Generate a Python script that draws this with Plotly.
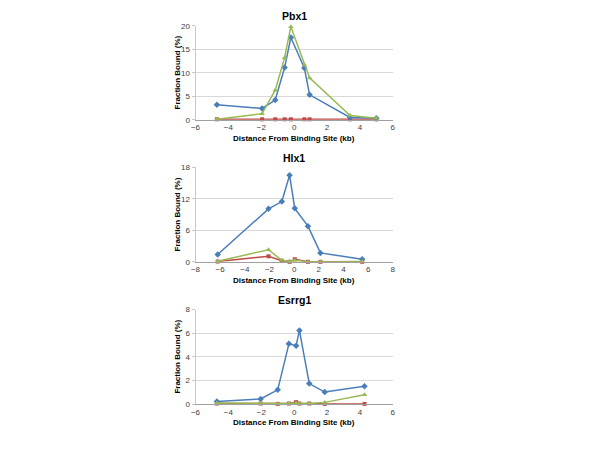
import plotly.graph_objects as go

# ---- data ----
pbx_x = [-4.7, -1.95, -1.15, -0.58, -0.2, 0.62, 0.94, 3.4, 5.0]
pbx_blue = [3.2, 2.4, 4.2, 11.1, 17.5, 11.0, 5.3, 0.5, 0.3]
pbx_red = [0.1, 0.1, 0.1, 0.1, 0.1, 0.1, 0.1, 0.1, 0.1]
pbx_green = [0.1, 1.3, 6.3, 13.2, 19.8, 11.7, 8.9, 0.9, 0.3]

hlx_x = [-6.2, -2.08, -1.0, -0.37, 0.05, 1.12, 2.13, 5.52]
hlx_blue = [1.4, 10.1, 11.5, 16.5, 10.2, 6.8, 1.7, 0.5]
hlx_red = [0.05, 1.05, 0.2, 0.0, 0.5, 0.0, 0.0, 0.0]
hlx_green = [0.1, 2.3, 0.3, 0.1, 0.3, 0.0, 0.0, 0.05]

esr_x = [-4.7, -2.04, -1.0, -0.32, 0.12, 0.32, 0.92, 1.86, 4.28]
esr_blue = [0.22, 0.44, 1.21, 5.1, 4.94, 6.23, 1.74, 1.02, 1.52]
esr_red = [0.05, 0.05, 0.02, 0.05, 0.17, 0.05, 0.05, 0.02, 0.02]
esr_green = [0.1, 0.05, 0.02, 0.05, 0.1, 0.05, 0.05, 0.15, 0.8]

titles = ["Pbx1", "Hlx1", "Esrrg1"]
x_ranges = [[-6, 6], [-8, 8], [-6, 6]]
x_dticks = [2, 2, 2]
y_ranges = [[0, 20], [0, 18], [0, 8]]
y_dticks = [5, 6, 2]

BLUE = "#4A7EBB"
RED = "#BE4B48"
GREEN = "#98B954"

# page body has an 8px margin; work in page pixels and subtract it
OFF = 8
W, H = 600 - OFF, 450 - OFF
x0, x1 = 193 - OFF, 393 - OFF
panels_px = [(22.0 - OFF, 118.0 - OFF), (166.7 - OFF, 263.0 - OFF), (311.7 - OFF, 408.3 - OFF)]

fig = go.Figure()

datasets = [
    (pbx_x, pbx_blue, pbx_red, pbx_green),
    (hlx_x, hlx_blue, hlx_red, hlx_green),
    (esr_x, esr_blue, esr_red, esr_green),
]

layout = dict(
    width=W, height=H,
    margin=dict(l=0, r=0, t=0, b=0),
    paper_bgcolor="white", plot_bgcolor="white",
    showlegend=False,
    font=dict(family="Liberation Sans, Arial", color="#404040"),
)

annotations = []
for i, (xs, b, r, g) in enumerate(datasets):
    xa = "x" if i == 0 else f"x{i+1}"
    ya = "y" if i == 0 else f"y{i+1}"
    for ys, col, sym, sz in [(r, RED, "square", 4), (b, BLUE, "diamond", 5), (g, GREEN, "triangle-up", 5)]:
        fig.add_trace(go.Scatter(
            x=xs, y=ys, mode="lines+markers", xaxis=xa, yaxis=ya,
            line=dict(color=col, width=1.5),
            marker=dict(color=col, symbol=sym, size=sz),
            cliponaxis=False,
        ))
    top, bot = panels_px[i]
    ydom = [1 - bot / H, 1 - top / H]
    xkey = "xaxis" if i == 0 else f"xaxis{i+1}"
    ykey = "yaxis" if i == 0 else f"yaxis{i+1}"
    layout[xkey] = dict(
        domain=[x0 / W, x1 / W], anchor=ya, range=x_ranges[i], dtick=x_dticks[i],
        showgrid=False, zeroline=False, showline=True, linecolor="#A0A0A0", linewidth=1,
        ticks="", ticklen=0,
        tickfont=dict(size=8, color="#404040"),
    )
    layout[ykey] = dict(
        domain=ydom, anchor=xa, range=y_ranges[i], dtick=y_dticks[i],
        showgrid=True, gridcolor="#D9D9D9", gridwidth=1, zeroline=False,
        showline=True, linecolor="#C8C8C8", linewidth=1,
        ticks="outside", ticklen=3, tickcolor="#C8C8C8",
        tickfont=dict(size=8, color="#404040"),
    )
    # title
    annotations.append(dict(
        text=f"<b>{titles[i]}</b>", x=(x0 + x1) / 2 / W, y=1 - (top - 9.5) / H,
        xref="paper", yref="paper", showarrow=False, xanchor="center", yanchor="middle",
        font=dict(size=10.5, color="#000000"),
    ))
    # x axis title
    annotations.append(dict(
        text="<b>Distance From Binding Site (kb)</b>", x=(x0 + x1) / 2 / W, y=1 - (bot + 18.7) / H,
        xref="paper", yref="paper", showarrow=False, xanchor="center", yanchor="middle",
        font=dict(size=8, color="#000000"),
    ))
    # y axis title
    annotations.append(dict(
        text="<b>Fraction Bound (%)</b>", x=(175 - OFF) / W, y=1 - ((top + bot) / 2) / H,
        xref="paper", yref="paper", showarrow=False, xanchor="center", yanchor="middle",
        textangle=-90, font=dict(size=8, color="#000000"),
    ))

layout["annotations"] = annotations
fig.update_layout(**layout)
fig.write_html("out.html")
